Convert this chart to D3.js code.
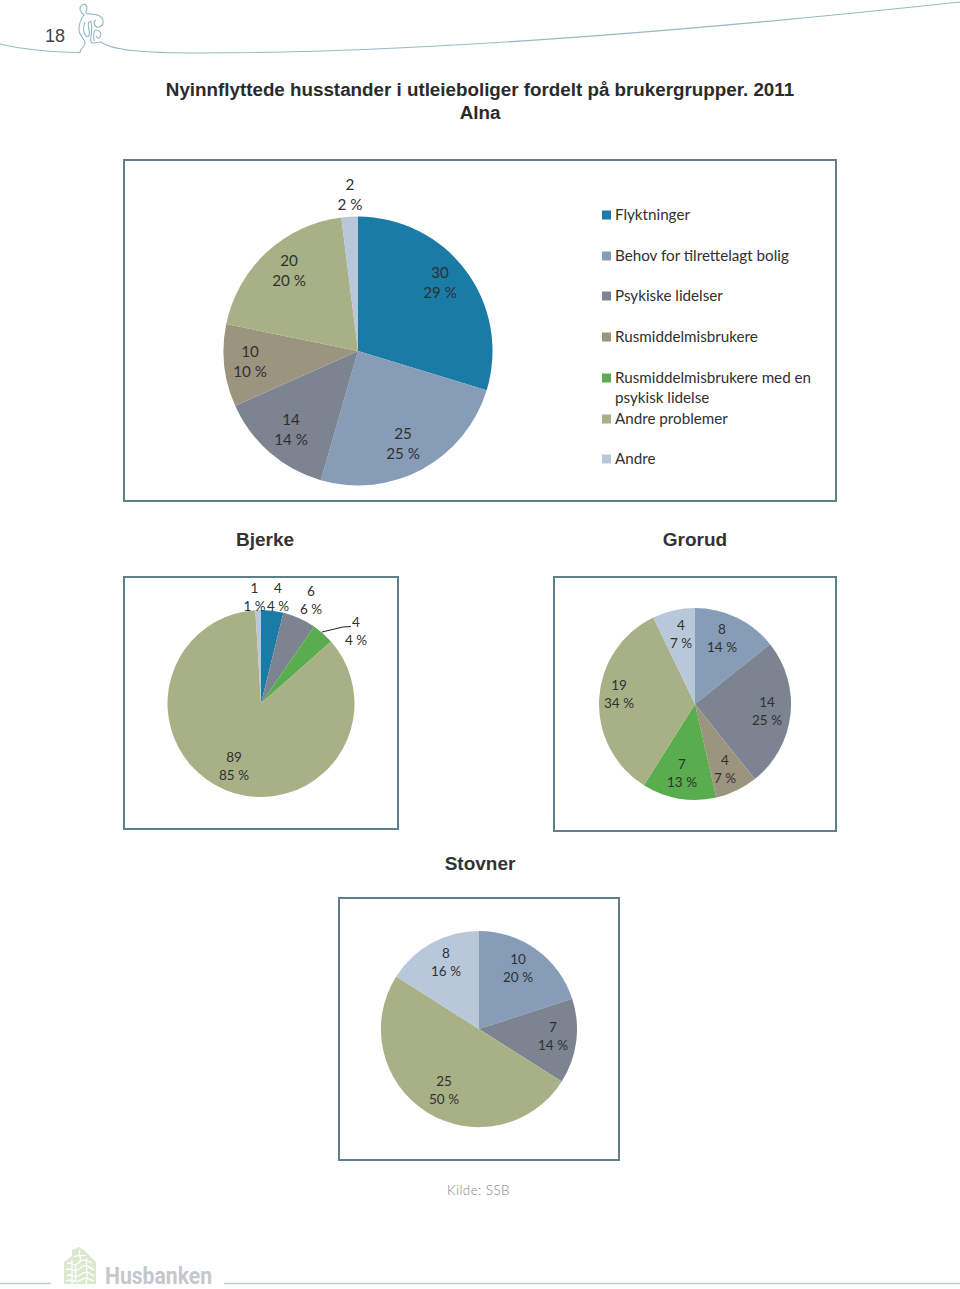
<!DOCTYPE html>
<html><head><meta charset="utf-8">
<script src="https://cdn.jsdelivr.net/npm/d3@7/dist/d3.min.js"></script>
<style>html,body{margin:0;background:#fff}svg{display:block}</style>
</head><body><svg id="c" width="960" height="1289"></svg>
<script>
const categories=["Flyktninger","Behov for tilrettelagt bolig","Psykiske lidelser","Rusmiddelmisbrukere","Rusmiddelmisbrukere med en psykisk lidelse","Andre problemer","Andre"];
const colors=["#1a7ba6","#879db7","#7b8490","#9b9580","#5aad4e","#a8b186","#b8c8da"];
const alnaValues=[30,25,14,10,0,20,2];
const alnaPct=[29,25,14,10,0,20,2];
const bjerkeValues=[4,0,6,0,4,89,1];
const bjerkePct=[4,0,6,0,4,85,1];
const grorudValues=[0,8,14,4,7,19,4];
const grorudPct=[0,14,25,7,13,34,7];
const stovnerValues=[0,10,7,0,0,25,8];
const stovnerPct=[0,20,14,0,0,50,16];

const svg=d3.select("#c");
const LABEL="Lato, Carlito, sans-serif", HEAD="'Liberation Sans', Arial, sans-serif";

// header line + figure
const deco=svg.append("g").attr("fill","none").attr("stroke","#93bac4").attr("stroke-width",1.1);
deco.append("path").attr("d","M0,44 C25,50 50,52 80,52.5 C80,48 85,47 85,43 C85,38 79,36 79,30 C79,24 80,20 84,15 C80,12 79,8 81,6 C83,3 87,4 87,8 C87,11 85,12 86,13 C90,15 97,13 101,17 C105,21 103,27 98,27 C94,27 93,22 96,20");
deco.append("path").attr("d","M85,22 C83,27 83,33 86,36 C89,38 90,34 89,30 C88,26 88,22 90,21 C92,22 92,30 91,36 C90,42 91,43 94,43 L101,42 C112,50 140,53 200,53 C420,53 700,30 960,2");
deco.append("path").attr("d","M94,41 C93,36 94,30 96,30 C100,30 102,34 100,37 C99,39 97,38 96,36");
svg.append("text").attr("x",45).attr("y",42).attr("font-family",HEAD).attr("font-size",18).attr("fill","#3d4650").text("18");

// title
svg.append("text").attr("x",480).attr("y",96).attr("text-anchor","middle").attr("font-family",HEAD).attr("font-weight",700).attr("font-size",18.8).attr("fill","#2b2b2b").text("Nyinnflyttede husstander i utleieboliger fordelt på brukergrupper. 2011");
svg.append("text").attr("x",480).attr("y",119).attr("text-anchor","middle").attr("font-family",HEAD).attr("font-weight",700).attr("font-size",18.8).attr("fill","#2b2b2b").text("Alna");

function pie(cfg){
  svg.append("rect").attr("x",cfg.box[0]).attr("y",cfg.box[1]).attr("width",cfg.box[2]-cfg.box[0]).attr("height",cfg.box[3]-cfg.box[1])
    .attr("fill","#fff").attr("stroke","#5f7f8c").attr("stroke-width",2);
  const rows=categories.map((c,i)=>({c,i,v:cfg.values[i],p:cfg.pct[i]}));
  const arcs=d3.pie().sort(null).value(d=>d.v)(rows);
  const arc=d3.arc().innerRadius(0).outerRadius(cfg.r);
  const g=svg.append("g").attr("transform",`translate(${cfg.cx},${cfg.cy})`);
  g.selectAll("path").data(arcs).join("path").attr("d",arc).attr("fill",d=>colors[d.data.i]);
  const shown=rows.filter(d=>d.v>0);
  shown.forEach((d,k)=>{
    const [x,y]=cfg.labels[k];
    const t=svg.append("text").attr("text-anchor","middle").attr("font-family",LABEL).attr("font-size",cfg.fs).attr("fill","#303030");
    t.append("tspan").attr("x",x).attr("y",y).text(d.v);
    t.append("tspan").attr("x",x).attr("y",y+cfg.lh).text(d.p+" %");
  });
}

pie({box:[124,160,836,501],cx:358,cy:351,r:134.5,values:alnaValues,pct:alnaPct,fs:15.2,lh:20,
  labels:[[440,278],[403,439],[291,425],[250,357],[289,266],[350,190]]});
pie({box:[124,577,398,829],cx:261,cy:703.5,r:93.5,values:bjerkeValues,pct:bjerkePct,fs:13.5,lh:18,
  labels:[[278,593],[311,596],[356,627],[234,762],[254.5,593]]});
pie({box:[554,577,836,831],cx:695,cy:704,r:96,values:grorudValues,pct:grorudPct,fs:13.5,lh:18,
  labels:[[722,634],[767,707],[725,765],[682,769],[619,690],[681,630]]});
pie({box:[339,898,619,1160],cx:479,cy:1029,r:98,values:stovnerValues,pct:stovnerPct,fs:13.5,lh:18,
  labels:[[518,964],[553,1032],[444,1086],[446,958]]});

// Bjerke leader line
svg.append("path").attr("d",d3.line()([[322,632],[343,627],[351,626.5]])).attr("fill","none").attr("stroke","#222").attr("stroke-width",1);

// legend
const legendY=[215,256,296,337,378,419,459];
const legendG=svg.append("g").attr("font-family",LABEL).attr("font-size",15.2).attr("fill","#303030");
categories.forEach((c,i)=>{
  legendG.append("rect").attr("x",602).attr("y",legendY[i]-4.5).attr("width",9).attr("height",9).attr("fill",colors[i]);
  if(i===4){
    legendG.append("text").attr("x",615).attr("y",legendY[i]+5).text("Rusmiddelmisbrukere med en");
    legendG.append("text").attr("x",615).attr("y",legendY[i]+25).text("psykisk lidelse");
  } else legendG.append("text").attr("x",615).attr("y",legendY[i]+5).text(c);
});

// headings
[["Bjerke",265,546],["Grorud",695,546],["Stovner",480,870]].forEach(([t,x,y])=>
  svg.append("text").attr("x",x).attr("y",y).attr("text-anchor","middle").attr("font-family",HEAD).attr("font-weight",700).attr("font-size",19).attr("fill","#333").text(t));

svg.append("text").attr("x",478.5).attr("y",1195).attr("text-anchor","middle").attr("font-family",LABEL).attr("font-weight",300).attr("font-size",13.5).attr("letter-spacing",0.4).attr("fill","#7f8487").text("Kilde: SSB");

// footer
const foot=svg.append("g");
foot.append("path").attr("d","M0,1283.5H51M224,1283.5H960").attr("stroke","#b9cfc9").attr("stroke-width",1.6).attr("fill","none");
foot.append("path").attr("d","M64,1284V1262L72,1256V1250L79,1247L84,1250L96,1262V1284Z").attr("fill","#dbe8cf");
const maze=foot.append("g").attr("stroke","#fff").attr("stroke-width",1.3).attr("fill","none");
maze.append("path").attr("d","M67,1264C71,1260 73,1268 77,1264S83,1258 92,1263M66,1270C70,1266 74,1274 79,1269S87,1265 94,1270M67,1276C71,1272 75,1280 80,1275S88,1272 94,1276M66,1281C71,1278 76,1284 81,1280S88,1279 94,1281M74,1257C77,1254 81,1257 86,1255M72,1260V1284M80,1250C78,1254 82,1258 80,1262M87,1258C85,1266 89,1272 86,1284M76,1266C74,1270 77,1276 75,1282");
foot.append("text").attr("x",105).attr("y",1284).attr("font-family","'Liberation Sans Narrow', Roboto, sans-serif").attr("font-weight",700).attr("font-size",23).attr("textLength",107).attr("lengthAdjust","spacingAndGlyphs").attr("fill","#c4c8cc").text("Husbanken");
</script></body></html>
